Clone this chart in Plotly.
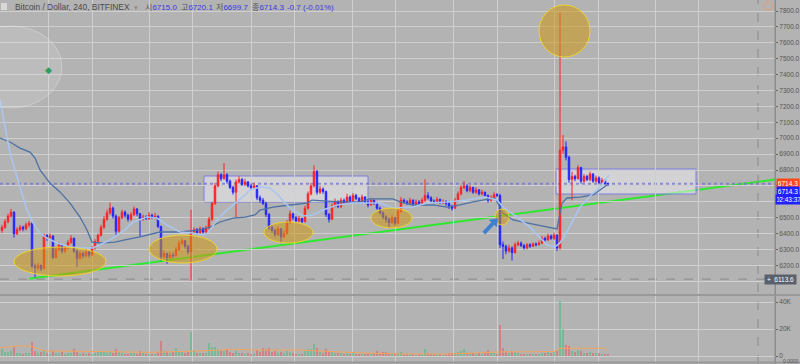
import plotly.graph_objects as go

# ---------------- data ----------------
title = "Bitcoin / Dollar, 240, BITFINEX"
ohlc_names = ["시", "고", "저", "종"]
ohlc_values = ["6715.0", "6720.1", "6699.7", "6714.3"]
change_text = "-0.7 (-0.01%)"
last_price = 6714.3
countdown = "02:43:37"
crosshair_price = 6113.6

opens = [
    6420, 6440, 6475, 6510, 6535, 6400, 6425, 6440, 6430, 6455,
    6465, 6195, 6185, 6200, 6180, 6390, 6375, 6385, 6250, 6300,
    6330, 6290, 6310, 6345, 6370, 6290, 6245, 6275, 6260, 6285,
    6265, 6310, 6350, 6390, 6440, 6490, 6530, 6560, 6510, 6415,
    6500, 6535, 6515, 6490, 6520, 6555, 6525, 6490, 6505, 6495,
    6515, 6500, 6510, 6445, 6255, 6275, 6250, 6265, 6260, 6300,
    6340, 6355, 6320, 6285, 6410, 6425, 6405, 6430, 6410, 6435,
    6490, 6590, 6700, 6770, 6745, 6770, 6730, 6690, 6660, 6725,
    6740, 6710, 6725, 6700, 6690, 6700, 6625, 6610, 6590, 6520,
    6440, 6420, 6395, 6430, 6380, 6400, 6470, 6525, 6500, 6480,
    6495, 6475, 6560, 6650, 6700, 6790, 6660, 6680, 6665, 6520,
    6490, 6575, 6600, 6570, 6610, 6595, 6630, 6605, 6640, 6620,
    6600, 6630, 6600, 6580, 6610, 6590, 6560, 6530, 6505, 6490,
    6470, 6500, 6465, 6540, 6610, 6600, 6590, 6610, 6585, 6600,
    6590, 6610, 6640, 6625, 6605, 6600, 6615, 6595, 6600, 6590,
    6570, 6560, 6610, 6650, 6690, 6700, 6670, 6690, 6660, 6675,
    6650, 6660, 6640, 6610, 6625, 6645, 6640, 6330, 6320, 6290,
    6310, 6280, 6330, 6340, 6325, 6310, 6330, 6320, 6335, 6330,
    6340, 6370, 6360, 6385, 6370, 6390, 6310, 6925, 6945, 6880,
    6740, 6760, 6745, 6815, 6730, 6760, 6740, 6775, 6730, 6750,
    6720, 6735, 6715.0,
]
highs = [
    6455, 6490, 6525, 6555, 6540, 6440, 6455, 6450, 6470, 6480,
    6470, 6210, 6215, 6205, 6400, 6395, 6400, 6390, 6320, 6345,
    6335, 6325, 6360, 6390, 6375, 6300, 6290, 6285, 6300, 6295,
    6320, 6365, 6400, 6455, 6510, 6550, 6595, 6570, 6520, 6510,
    6550, 6545, 6525, 6535, 6570, 6560, 6530, 6520, 6515, 6535,
    6525, 6530, 6515, 6450, 6295, 6280, 6285, 6280, 6315, 6355,
    6370, 6360, 6330, 6550, 6440, 6435, 6445, 6440, 6450, 6505,
    6600, 6720, 6790, 6780, 6843, 6780, 6740, 6700, 6740, 6760,
    6750, 6745, 6730, 6715, 6720, 6705, 6640, 6625, 6600, 6530,
    6455, 6430, 6445, 6435, 6420, 6485, 6545, 6530, 6510, 6510,
    6500, 6575, 6665, 6720, 6830, 6800, 6700, 6690, 6670, 6530,
    6590, 6620, 6610, 6625, 6620, 6650, 6640, 6655, 6650, 6630,
    6645, 6635, 6610, 6625, 6615, 6600, 6570, 6540, 6515, 6500,
    6515, 6505, 6555, 6630, 6620, 6610, 6625, 6615, 6615, 6610,
    6625, 6742, 6660, 6635, 6615, 6630, 6620, 6615, 6610, 6600,
    6580, 6625, 6665, 6705, 6730, 6710, 6705, 6695, 6690, 6680,
    6675, 6665, 6645, 6640, 6660, 6655, 6650, 6350, 6330, 6330,
    6320, 6345, 6355, 6350, 6335, 6340, 6340, 6345, 6345, 6355,
    6385, 6380, 6400, 6395, 6405, 6395, 7790, 7020, 6980, 6890,
    6790, 6770, 6830, 6820, 6775, 6770, 6790, 6780, 6765, 6760,
    6750, 6740, 6720.1,
]
lows = [
    6405, 6430, 6465, 6500, 6375, 6390, 6415, 6415, 6420, 6440,
    6185, 6125, 6170, 6165, 6175, 6355, 6365, 6240, 6245, 6290,
    6275, 6280, 6300, 6335, 6280, 6190, 6235, 6245, 6250, 6250,
    6260, 6300, 6340, 6380, 6430, 6480, 6520, 6495, 6390, 6405,
    6490, 6500, 6475, 6480, 6510, 6510, 6380, 6480, 6485, 6485,
    6490, 6490, 6435, 6230, 6240, 6210, 6240, 6245, 6255, 6290,
    6330, 6305, 6270, 6105, 6400, 6395, 6395, 6400, 6400, 6425,
    6480, 6580, 6690, 6730, 6740, 6715, 6680, 6645, 6500, 6715,
    6700, 6700, 6690, 6675, 6680, 6610, 6595, 6580, 6505, 6425,
    6405, 6380, 6385, 6340, 6370, 6395, 6460, 6485, 6470, 6470,
    6465, 6470, 6550, 6640, 6690, 6645, 6650, 6650, 6505, 6470,
    6485, 6565, 6560, 6560, 6585, 6585, 6595, 6600, 6610, 6590,
    6595, 6590, 6565, 6575, 6580, 6550, 6520, 6490, 6470, 6435,
    6460, 6450, 6460, 6530, 6590, 6580, 6580, 6575, 6575, 6580,
    6585, 6600, 6615, 6595, 6590, 6590, 6585, 6585, 6575, 6555,
    6545, 6555, 6600, 6640, 6680, 6660, 6660, 6650, 6650, 6640,
    6640, 6625, 6595, 6600, 6620, 6630, 6310, 6240, 6270, 6280,
    6230, 6275, 6320, 6315, 6300, 6300, 6310, 6315, 6320, 6325,
    6335, 6350, 6355, 6360, 6360, 6290, 6300, 6900, 6860, 6720,
    6610, 6730, 6740, 6715, 6720, 6730, 6730, 6720, 6720, 6710,
    6710, 6705, 6699.7,
]
closes = [
    6440, 6475, 6510, 6535, 6400, 6425, 6440, 6430, 6455, 6465,
    6195, 6185, 6200, 6180, 6390, 6375, 6385, 6250, 6300, 6330,
    6290, 6310, 6345, 6370, 6290, 6245, 6275, 6260, 6285, 6265,
    6310, 6350, 6390, 6440, 6490, 6530, 6560, 6510, 6415, 6500,
    6535, 6515, 6490, 6520, 6555, 6525, 6490, 6505, 6495, 6515,
    6500, 6510, 6445, 6255, 6275, 6250, 6265, 6260, 6300, 6340,
    6355, 6320, 6285, 6410, 6425, 6405, 6430, 6410, 6435, 6490,
    6590, 6700, 6770, 6745, 6770, 6730, 6690, 6660, 6725, 6740,
    6710, 6725, 6700, 6690, 6700, 6625, 6610, 6590, 6520, 6440,
    6420, 6395, 6430, 6380, 6400, 6470, 6525, 6500, 6480, 6495,
    6475, 6560, 6650, 6700, 6790, 6660, 6680, 6665, 6520, 6490,
    6575, 6600, 6570, 6610, 6595, 6630, 6605, 6640, 6620, 6600,
    6630, 6600, 6580, 6610, 6590, 6560, 6530, 6505, 6490, 6470,
    6500, 6465, 6540, 6610, 6600, 6590, 6610, 6585, 6600, 6590,
    6610, 6640, 6625, 6605, 6600, 6615, 6595, 6600, 6590, 6570,
    6560, 6610, 6650, 6690, 6700, 6670, 6690, 6660, 6675, 6650,
    6660, 6640, 6610, 6625, 6645, 6640, 6330, 6320, 6290, 6310,
    6280, 6330, 6340, 6325, 6310, 6330, 6320, 6335, 6330, 6340,
    6370, 6360, 6385, 6370, 6390, 6310, 6925, 6945, 6880, 6740,
    6760, 6745, 6815, 6730, 6760, 6740, 6775, 6730, 6750, 6720,
    6735, 6715, 6714.3,
]
volumes_k = [
    5.5, 3.0, 2.8, 3.5, 6.5, 2.5, 2.0, 1.8, 2.2, 2.0,
    10.6, 4.0, 2.5, 3.0, 4.5, 2.2, 1.8, 3.5, 2.5, 2.0,
    3.0, 1.8, 2.2, 2.5, 5.0, 3.2, 1.8, 2.0, 1.5, 2.2,
    1.8, 2.5, 3.0, 2.8, 3.2, 2.5, 3.5, 2.0, 5.0, 2.8,
    2.0, 1.5, 1.8, 2.2, 2.5, 1.8, 4.0, 2.0, 1.5, 1.8,
    1.5, 1.6, 3.0, 11.0, 4.0, 3.5, 2.5, 3.0, 6.0, 3.5,
    2.8, 2.5, 3.2, 18.0, 4.5, 2.5, 2.2, 2.0, 2.5, 9.5,
    7.0, 7.0, 5.5, 3.5, 4.0, 5.0, 3.0, 2.5, 4.0, 2.5,
    2.0, 1.8, 2.0, 1.8, 1.5, 4.5, 3.0, 6.0, 5.5, 6.0,
    3.0, 3.5, 2.5, 3.0, 2.0, 3.5, 3.0, 2.0, 1.8, 1.5,
    1.8, 3.5, 5.0, 5.0, 9.0, 6.0, 3.0, 2.5, 5.5, 4.0,
    3.0, 2.2, 2.0, 2.5, 1.8, 2.2, 1.5, 2.0, 1.5, 1.8,
    1.6, 1.8, 2.0, 1.5, 2.0, 3.5, 2.5, 2.8, 3.0, 2.5,
    2.0, 2.2, 2.5, 3.0, 1.5, 1.2, 1.5, 1.2, 1.0, 1.2,
    1.5, 5.0, 2.0, 1.5, 1.2, 1.5, 1.2, 1.0, 1.2, 2.0,
    2.2, 2.5, 3.0, 3.5, 5.0, 2.5, 2.0, 2.2, 1.8, 2.0,
    1.5, 2.5, 4.4, 2.0, 2.2, 1.8, 23.0, 6.0, 4.0, 2.5,
    4.0, 3.0, 2.2, 1.8, 1.5, 1.8, 1.5, 1.2, 1.5, 1.8,
    2.5, 2.0, 3.0, 2.2, 2.8, 3.5, 41.0, 20.0, 8.0, 7.4,
    4.0, 3.0, 4.5, 3.5, 2.5, 2.0, 3.0, 2.5, 2.0, 2.2,
    1.8, 1.5, 1.2,
]

# moving averages (sampled, candle-index positions)
ma_fast_x = [-0.67, 2.67, 6, 8.33, 10.33, 12.67, 15, 18.33, 22.67, 27, 30.33, 32.67, 36, 41,
             43.67, 48.33, 51.67, 55, 59.33, 63.33, 67, 68.67, 71.67, 75, 78.33, 81, 82.67, 86,
             89.33, 92, 94.33, 97, 100.33, 103.67, 107, 111.67, 117, 121, 126, 130.33, 137,
             141.67, 148.33, 155, 161, 165, 167, 171.67, 176, 181.67, 184.33, 186, 188.67,
             192.67, 197, 199.33, 202.33]
ma_fast = [7240, 6907, 6693, 6548, 6467, 6404, 6372, 6341, 6316, 6309, 6309, 6328, 6360, 6423,
           6473, 6504, 6498, 6454, 6410, 6404, 6391, 6404, 6486, 6548, 6599, 6643, 6674, 6693,
           6687, 6643, 6592, 6548, 6511, 6517, 6548, 6580, 6592, 6592, 6592, 6561, 6567,
           6592, 6599, 6611, 6630, 6611, 6567, 6504, 6441, 6328, 6316, 6341, 6423,
           6567, 6655, 6693, 6769]
ma_slow_x = [-0.67, 2.67, 6, 9.33, 11, 12.67, 16, 19.33, 22.67, 26, 28.33, 30, 32.67, 37.67,
             41, 46, 52.67, 59.33, 66, 69.33, 72.67, 77, 81, 84.33, 86, 90.33, 96, 101.67,
             103.33, 112.67, 119.33, 122.67, 130.33, 132.67, 137, 143.67, 148.33, 152.67, 157,
             161, 164.33, 167, 170.33, 177, 185, 186.67, 188.33, 192.67, 197, 199.33, 201.67]
ma_slow = [7001, 6976, 6938, 6913, 6875, 6800, 6718, 6662, 6592, 6504, 6423, 6347, 6341, 6347,
           6360, 6379, 6410, 6410, 6423, 6441, 6473, 6498, 6504, 6517, 6548, 6567, 6580, 6592,
           6611, 6599, 6599, 6618, 6618, 6599, 6580, 6580, 6567, 6580, 6599,
           6611, 6624, 6529, 6486, 6460, 6429, 6592, 6624, 6630, 6643, 6674, 6706]
vol_ma_x = [-0.67, 4.33, 9.33, 14.33, 32.67, 49.33, 66, 76, 86, 99.33, 116, 132.67, 149.33,
            166, 184.33, 186, 201, 202]
vol_ma_k = [5.9, 7.4, 7.4, 3.7, 3.3, 2.7, 3.7, 4.8, 4.4, 4.4, 2.6, 1.5, 1.5, 3.0, 3.3, 5.7,
            5.7, 3.3]

price_ticks = [6100, 6200, 6300, 6400, 6500, 6600, 6700, 6800, 6900, 7000, 7100, 7200, 7300,
               7400, 7500, 7600, 7700, 7800]
hidden_price_ticks = [6100, 6600, 6700]   # covered by the price / crosshair labels
vol_ticks = [0, 20, 40]
vol_tick_labels = ["0", "20K", "40K"]
lower_pane_value = "0.0000"

# ---------------- geometry helpers (pixel layout of the 800x364 frame) ----------------
W, H = 800, 364
PLOT_W = 775
X0_PX, DX_PX = 2.0, 3.0
TOP_PX, TOP_PRICE, PX_PER_PT = 11.0, 7800.0, 0.159


def px_to_i(p):
    return (p - X0_PX) / DX_PX


def py_to_price(yp):
    return TOP_PRICE - (yp - TOP_PX) / PX_PER_PT


def fx(p):
    return p / PLOT_W


def fy(yp):
    return 1 - yp / H


def path_px(points):
    parts = [f"{'M' if k == 0 else 'L'} {fx(x):.5f},{fy(y):.5f}" for k, (x, y) in enumerate(points)]
    return " ".join(parts) + " Z"


grid_px = [48, 92, 149, 192, 251, 294, 352, 395, 453, 497, 554, 598, 655, 698]
grid_i = [px_to_i(p) for p in grid_px]

BG = "#b3b3b3"
GRID = "#cfcfcf"
UP = "#ff2222"
DOWN = "#2424ff"
FONT = "Liberation Sans, Noto Sans CJK KR, sans-serif"

idx = list(range(len(closes)))
vol_colors = ["rgba(60,190,120,0.5)" if c >= o else "rgba(235,80,85,0.5)"
              for o, c in zip(opens, closes)]

fig = go.Figure()
fig.add_trace(go.Candlestick(
    x=idx, open=opens, high=highs, low=lows, close=closes,
    increasing=dict(line=dict(color=UP, width=1), fillcolor=UP),
    decreasing=dict(line=dict(color=DOWN, width=1), fillcolor=DOWN),
    whiskerwidth=0, hoverinfo="skip", xaxis="x", yaxis="y"))
fig.add_trace(go.Scatter(x=ma_slow_x, y=ma_slow, mode="lines",
                         line=dict(color="#4d72a3", width=1.3), hoverinfo="skip"))
fig.add_trace(go.Scatter(x=ma_fast_x, y=ma_fast, mode="lines",
                         line=dict(color="#aac6ee", width=1.6), hoverinfo="skip"))
fig.add_trace(go.Bar(x=idx, y=volumes_k, marker=dict(color=vol_colors, line=dict(width=0)),
                     width=0.8, xaxis="x2", yaxis="y2", hoverinfo="skip"))
fig.add_trace(go.Scatter(x=vol_ma_x, y=vol_ma_k, mode="lines", xaxis="x2", yaxis="y2",
                         line=dict(color="#f4a45c", width=1), hoverinfo="skip"))

shapes = []
# faint white blob (old drawing) top-left
shapes.append(dict(type="circle", xref="paper", yref="paper", x0=fx(-40), x1=fx(62),
                   y0=fy(108), y1=fy(26), fillcolor="rgba(255,255,255,0.12)",
                   line=dict(color="rgba(255,255,255,0.25)", width=1), layer="above"))
# rising trend line
shapes.append(dict(type="line", xref="paper", yref="paper", x0=fx(29), y0=fy(278.7),
                   x1=fx(775), y1=fy(179.6), line=dict(color="#2ee82e", width=2),
                   layer="between"))
# boxes
for xa, xb, ya, yb in [(204, 368, 176, 202), (556, 696, 169, 194)]:
    shapes.append(dict(type="rect", xref="paper", yref="paper", x0=fx(xa), x1=fx(xb),
                       y0=fy(yb), y1=fy(ya), fillcolor="rgba(236,236,240,0.55)",
                       line=dict(color="#7d7de0", width=1), layer="between"))
# last price dotted line
shapes.append(dict(type="line", xref="paper", yref="y", x0=0, x1=1, y0=last_price,
                   y1=last_price, line=dict(color="rgba(112,112,215,0.75)", width=2, dash="dot"),
                   layer="between"))
# crosshair
shapes.append(dict(type="line", xref="paper", yref="y", x0=0, x1=1, y0=crosshair_price,
                   y1=crosshair_price, line=dict(color="#8a8a8a", width=1, dash="dash"),
                   layer="between"))
shapes.append(dict(type="line", xref="paper", yref="paper", x0=fx(758), x1=fx(758), y0=0,
                   y1=1, line=dict(color="#8a8a8a", width=1, dash="dash"), layer="between"))
# highlight ellipses
for xa, xb, ya, yb in [(14, 106, 247, 276), (149, 217, 235, 263), (264, 313, 222, 243),
                       (371, 412, 208, 228), (495, 509, 209, 225), (539, 590, 5, 57)]:
    shapes.append(dict(type="circle", xref="paper", yref="paper", x0=fx(xa), x1=fx(xb),
                       y0=fy(yb), y1=fy(ya), fillcolor="rgba(205,150,20,0.55)",
                       line=dict(color="rgba(240,215,40,0.9)", width=1), layer="above"))
# blue arrow (drawing) pointing up-right
shapes.append(dict(type="path", xref="paper", yref="paper",
                   path=path_px([(485.3, 234.2), (494.2, 224.6), (496.6, 226.9), (497.5, 218.5),
                                 (489.2, 219.9), (491.6, 222.2), (482.7, 231.8)]),
                   fillcolor="#3d80d0", line=dict(color="#3d80d0", width=0.5), layer="above"))
# pane separators and right axis line
shapes.append(dict(type="line", xref="paper", yref="paper", x0=0, x1=fx(800), y0=fy(295),
                   y1=fy(295), line=dict(color="#999999", width=2)))
shapes.append(dict(type="line", xref="paper", yref="paper", x0=0, x1=fx(800), y0=fy(362.5),
                   y1=fy(362.5), line=dict(color="#999999", width=2)))
shapes.append(dict(type="line", xref="paper", yref="paper", x0=1, x1=1, y0=0, y1=1,
                   line=dict(color="#8c8c8c", width=1)))
# small icons: orange circle top-right, light square top-left
shapes.append(dict(type="circle", xref="paper", yref="paper", x0=fx(763.5), x1=fx(772.5),
                   y0=fy(10.5), y1=fy(1.5), line=dict(color="#e89a66", width=1)))
shapes.append(dict(type="rect", xref="paper", yref="paper", x0=fx(1), x1=fx(7),
                   y0=fy(10), y1=fy(3), fillcolor="#d8d8d8", line=dict(width=0)))

ann = []
ty = fy(7)
ann.append(dict(xref="paper", yref="paper", x=fx(13), y=ty, xanchor="left", yanchor="middle",
                text=title, showarrow=False, font=dict(family=FONT, size=8.4, color="#4a4a4a")))
ann.append(dict(xref="paper", yref="paper", x=fx(132), y=ty, xanchor="left", yanchor="middle",
                text="▾", showarrow=False, font=dict(family=FONT, size=7, color="#8a8a8a")))
for xp, nm, val in zip([143, 179, 214, 250], ohlc_names, ohlc_values):
    ann.append(dict(xref="paper", yref="paper", x=fx(xp), y=ty, xanchor="left",
                    yanchor="middle", showarrow=False,
                    text=f"{nm}<span style='color:#3838e0'>{val}</span>",
                    font=dict(family=FONT, size=8, color="#555555")))
ann.append(dict(xref="paper", yref="paper", x=fx(285), y=ty, xanchor="left", yanchor="middle",
                text=change_text, showarrow=False, font=dict(family=FONT, size=8, color="#3838e0")))
# green marker
ann.append(dict(xref="paper", yref="paper", x=fx(43), y=fy(63), text="◆", showarrow=False,
                font=dict(family="DejaVu Sans", size=9, color="#2f9e58")))
# right-side labels
lab_font = dict(family=FONT, size=6.5, color="white")
ann.append(dict(xref="paper", yref="paper", x=fx(776), y=fy(183), xanchor="left",
                yanchor="middle", text=f"{last_price:.1f}", bgcolor="#ff4a18", borderpad=1,
                width=20, height=7, showarrow=False, font=lab_font))
ann.append(dict(xref="paper", yref="paper", x=fx(776), y=fy(191.5), xanchor="left",
                yanchor="middle", text=f"{last_price:.1f}", bgcolor="#2222ff", borderpad=1,
                width=20, height=7, showarrow=False, font=lab_font))
ann.append(dict(xref="paper", yref="paper", x=fx(775), y=fy(199.5), xanchor="left",
                yanchor="middle", text=countdown, bgcolor="#1f1fff", borderpad=1,
                width=23, height=7, showarrow=False, font=lab_font))
ann.append(dict(xref="paper", yref="y", x=fx(797), y=crosshair_price, xanchor="right",
                yanchor="middle", text=f"+  {crosshair_price:.1f}", bgcolor="#5a606c",
                borderpad=1, width=29, height=7, showarrow=False, font=lab_font))
ann.append(dict(xref="paper", yref="paper", x=fx(781), y=fy(361.4), xanchor="left",
                yanchor="middle", text=lower_pane_value, showarrow=False,
                font=dict(family=FONT, size=5, color="#555555")))

xcommon = dict(range=[px_to_i(0), px_to_i(PLOT_W)], showticklabels=False, ticks="",
               tickmode="array", tickvals=grid_i, showgrid=True, gridcolor=GRID, gridwidth=1,
               zeroline=False, showline=False, fixedrange=True)
ycommon = dict(side="right", showgrid=True, gridcolor=GRID, gridwidth=1, zeroline=False,
               showline=True, linecolor="#8c8c8c", ticks="outside", ticklen=2,
               tickcolor="#666666", tickfont=dict(family=FONT, size=6.5, color="#555555"),
               automargin=False, fixedrange=True)

price_text = ["" if t in hidden_price_ticks else f"{t:.1f}" for t in price_ticks]

fig.update_layout(
    width=W, height=H, margin=dict(l=0, r=W - PLOT_W, t=0, b=0, pad=0),
    paper_bgcolor=BG, plot_bgcolor=BG, showlegend=False, hovermode=False,
    xaxis=dict(**xcommon, anchor="y", rangeslider=dict(visible=False)),
    xaxis2=dict(**xcommon, anchor="y2", matches="x"),
    yaxis=dict(**ycommon, domain=[fy(294), 1], anchor="x",
               range=[py_to_price(294), py_to_price(0)], tickmode="array",
               tickvals=price_ticks, ticktext=price_text),
    yaxis2=dict(**ycommon, domain=[0, fy(296)], anchor="x2",
                range=[-(H - 356) / 1.35, (356 - 296) / 1.35], tickmode="array",
                tickvals=vol_ticks, ticktext=vol_tick_labels),
    shapes=shapes, annotations=ann, bargap=0,
)

fig.write_html("out.html", config={"displayModeBar": False, "staticPlot": True},
               post_script="document.body.style.margin='0';document.body.style.overflow='hidden';")
